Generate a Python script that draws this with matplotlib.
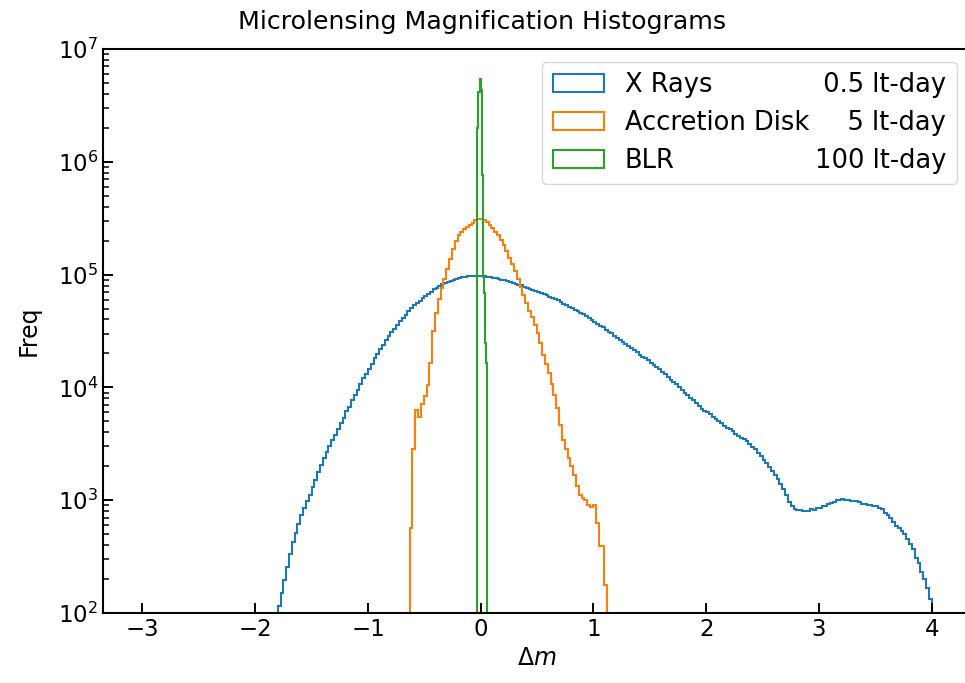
import numpy as np
import matplotlib.pyplot as plt
from matplotlib.patches import Patch

# log10(frequency) per bin
xray_start, xray_width = -1.80, 0.025
xray_logfreq = [
    2.06, 2.18, 2.29, 2.41, 2.52, 2.63, 2.71, 2.79, 2.87, 2.93,
    2.99, 3.05, 3.12, 3.18, 3.25, 3.31, 3.37, 3.43, 3.48, 3.53,
    3.58, 3.63, 3.68, 3.73, 3.79, 3.83, 3.89, 3.93, 3.98, 4.03,
    4.08, 4.12, 4.16, 4.21, 4.26, 4.30, 4.34, 4.38, 4.42, 4.46,
    4.49, 4.52, 4.555, 4.585, 4.615, 4.645, 4.675, 4.70, 4.73, 4.75,
    4.77, 4.79, 4.81, 4.83, 4.85, 4.87, 4.88, 4.90, 4.915, 4.925,
    4.935, 4.945, 4.955, 4.965, 4.97, 4.98, 4.983, 4.987, 4.99, 4.99,
    4.99, 4.99, 4.99, 4.99, 4.983, 4.977, 4.972, 4.967, 4.962, 4.955,
    4.95, 4.94, 4.935, 4.925, 4.92, 4.91, 4.905, 4.893, 4.885, 4.875,
    4.865, 4.855, 4.85, 4.838, 4.827, 4.815, 4.805, 4.795, 4.787, 4.772,
    4.757, 4.743, 4.728, 4.712, 4.705, 4.69, 4.677, 4.663, 4.647, 4.633,
    4.618, 4.60, 4.58, 4.563, 4.548, 4.532, 4.51, 4.493, 4.478, 4.46,
    4.44, 4.42, 4.40, 4.382, 4.368, 4.35, 4.33, 4.31, 4.29, 4.272,
    4.258, 4.24, 4.22, 4.20, 4.18, 4.16, 4.14, 4.12, 4.093, 4.07,
    4.05, 4.028, 4.003, 3.978, 3.953, 3.93, 3.91, 3.89, 3.862, 3.837,
    3.81, 3.79, 3.778, 3.76, 3.74, 3.72, 3.70, 3.68, 3.66, 3.642,
    3.628, 3.61, 3.59, 3.572, 3.555, 3.54, 3.525, 3.50, 3.475, 3.45,
    3.42, 3.39, 3.355, 3.33, 3.29, 3.255, 3.22, 3.185, 3.14, 3.10,
    3.05, 2.98, 2.95, 2.92, 2.91, 2.915, 2.90, 2.905, 2.905, 2.92,
    2.915, 2.935, 2.93, 2.945, 2.95, 2.965, 2.975, 2.985, 3.00, 3.005,
    3.01, 3.005, 3.00, 2.995, 2.99, 2.995, 2.98, 2.97, 2.965, 2.955,
    2.96, 2.945, 2.945, 2.93, 2.925, 2.89, 2.865, 2.84, 2.81, 2.775,
    2.755, 2.725, 2.70, 2.655, 2.615, 2.57, 2.49, 2.44, 2.36, 2.30,
    2.22, 2.12,
]

disk_start, disk_width = -0.63, 0.025
disk_logfreq = [
    2.75, 3.45, 3.80, 3.74, 3.85, 3.92, 4.02, 4.22, 4.50, 4.66,
    4.78, 4.88, 4.96, 5.05, 5.14, 5.23, 5.30, 5.35, 5.38, 5.40,
    5.42, 5.44, 5.46, 5.48, 5.49, 5.49, 5.48, 5.47, 5.44, 5.41,
    5.38, 5.35, 5.31, 5.26, 5.21, 5.15, 5.09, 5.03, 4.96, 4.89,
    4.82, 4.75, 4.68, 4.62, 4.55, 4.48, 4.39, 4.29, 4.21, 4.13,
    4.03, 3.93, 3.82, 3.67, 3.53, 3.45, 3.37, 3.30, 3.22, 3.13,
    3.05, 3.02, 3.00, 2.96, 2.94, 2.96, 2.80, 2.59, 2.59, 2.25,
]

blr_start, blr_width = -0.03, 0.01
blr_logfreq = [6.30, 6.62, 6.73, 6.64, 5.88, 4.98, 4.84, 4.39, 4.22]

names = ['X Rays', 'Accretion Disk', 'BLR']
sizes = [' 0.5 lt-day', '    5 lt-day', '100 lt-day']
colors = ['#1f77b4', '#ff7f0e', '#2ca02c']


def bin_edges(start, width, n):
    return start + width * np.arange(n + 1)


fig = plt.figure(figsize=(9.65, 6.83), dpi=100)
ax = fig.add_axes([103 / 965, 70 / 683, 867 / 965, 564 / 683])

series = [(xray_start, xray_width, xray_logfreq),
          (disk_start, disk_width, disk_logfreq),
          (blr_start, blr_width, blr_logfreq)]
handles = []
for (start, width, logf), col in zip(series, colors):
    vals = 10 ** np.array(logf)
    ax.stairs(vals, bin_edges(start, width, len(vals)), baseline=1,
              color=col, lw=1.5)
    handles.append(Patch(facecolor='none', edgecolor=col, lw=1.5))

ax.set_yscale('log')
ax.set_ylim(1e2, 1e7)
ax.set_xlim(-3.35, 4.34)

fig.suptitle('Microlensing Magnification Histograms', fontsize=18.2,
             x=0.5, y=1 - 22 / 683, va='center')
ax.set_xlabel(r'$\Delta m$', fontsize=17)
ax.set_ylabel('Freq', fontsize=17, labelpad=12)

ax.tick_params(which='both', direction='in', top=False, right=False,
               labelsize=16.5)
ax.tick_params(which='major', length=7, width=1.4)
ax.tick_params(which='minor', length=4, width=1.1)
for s in ax.spines.values():
    s.set_linewidth(1.5)
ax.spines['right'].set_visible(False)

blank = [Patch(facecolor='none', edgecolor='none') for _ in sizes]
ax.legend(handles + blank, names + sizes, ncol=2, loc='upper right',
          fontsize=18.5, columnspacing=-2.55, labelspacing=0.46)

fig.savefig('out.png', dpi=100)
